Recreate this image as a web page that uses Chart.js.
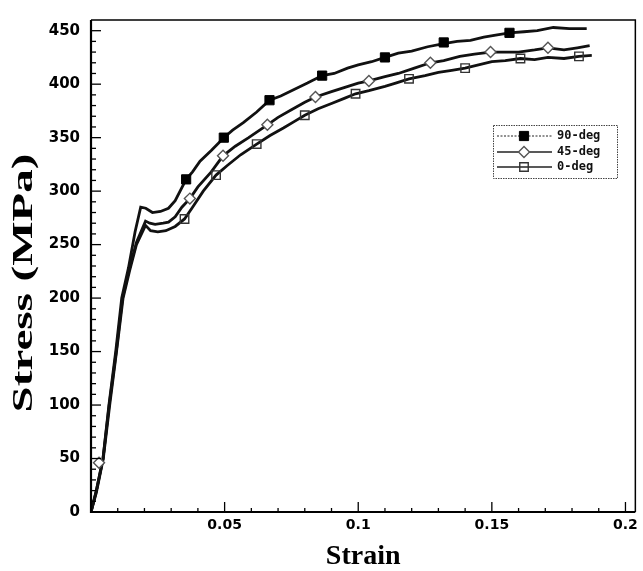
<!DOCTYPE html>
<html>
<head>
<meta charset="utf-8">
<script src="https://cdn.jsdelivr.net/npm/chart.js@4"></script>
<style>
  html, body { margin: 0; padding: 0; background: #fff; }
  #wrap { width: 643px; height: 571px; }
</style>
</head>
<body>
<div id="wrap"><canvas id="c" width="643" height="571"></canvas></div>
<script>
// ---------- data ----------
const seriesLabels = ["90-deg", "45-deg", "0-deg"];

const strain90 = [0, 0.002, 0.0045, 0.0067, 0.0093, 0.0115, 0.014, 0.0165, 0.0186, 0.0205, 0.023, 0.026, 0.029, 0.0315, 0.0356, 0.038, 0.0408, 0.045, 0.0497, 0.053, 0.057, 0.062, 0.0668, 0.071, 0.076, 0.081, 0.0865, 0.091, 0.096, 0.100, 0.105, 0.110, 0.115, 0.120, 0.126, 0.132, 0.137, 0.142, 0.147, 0.152, 0.1566, 0.162, 0.167, 0.173, 0.179, 0.1855];
const stress90 = [0, 20, 50, 100, 151, 200, 228, 262, 285, 284, 280, 281, 284, 291, 311, 318, 328, 338, 350, 357, 364, 374, 385, 389, 395, 401, 408, 410, 415, 418, 421, 425, 429, 431, 435, 438, 440, 441, 444, 446, 448, 449, 450, 453, 452, 452];

const strain45 = [0, 0.002, 0.0045, 0.0068, 0.0095, 0.0118, 0.0142, 0.017, 0.0204, 0.022, 0.024, 0.027, 0.029, 0.0315, 0.034, 0.037, 0.040, 0.045, 0.0494, 0.054, 0.059, 0.066, 0.070, 0.075, 0.080, 0.084, 0.090, 0.095, 0.100, 0.104, 0.110, 0.115, 0.121, 0.127, 0.132, 0.138, 0.1435, 0.1495, 0.155, 0.160, 0.166, 0.171, 0.177, 0.182, 0.1866];
const stress45 = [0, 20, 50, 100, 151, 200, 226, 252, 272, 270, 269, 270, 271, 276, 285, 293, 304, 318, 333, 342, 350, 362, 369, 376, 383, 388, 393, 397, 401, 403, 407, 410, 415, 420, 422, 426, 428, 430, 430, 430, 432, 434, 432, 434, 436];

const strain0 = [0, 0.002, 0.0046, 0.007, 0.0096, 0.012, 0.0145, 0.017, 0.0204, 0.0223, 0.025, 0.028, 0.0315, 0.035, 0.038, 0.042, 0.0468, 0.051, 0.056, 0.062, 0.067, 0.072, 0.076, 0.080, 0.085, 0.090, 0.095, 0.099, 0.104, 0.110, 0.114, 0.119, 0.125, 0.130, 0.135, 0.140, 0.145, 0.150, 0.155, 0.1607, 0.166, 0.171, 0.177, 0.1826, 0.1874];
const stress0 = [0, 18, 50, 100, 151, 200, 226, 250, 268, 263, 262, 263, 267, 274, 285, 300, 315, 324, 334, 344, 352, 359, 365, 371, 377, 382, 387, 391, 394, 398, 401, 405, 408, 411, 413, 415, 418, 421, 422, 424, 423, 425, 424, 426, 427];

// marker positions (symbols drawn on the curves)
const mark90Strain = [0.0356, 0.0497, 0.0668, 0.0865, 0.110, 0.132, 0.1566];
const mark90Stress = [311, 350, 385, 408, 425, 439, 448];
const mark45Strain = [0.003, 0.037, 0.0494, 0.066, 0.084, 0.104, 0.127, 0.1495, 0.171];
const mark45Stress = [46, 293, 333, 362, 388, 403, 420, 430, 434];
const mark0Strain = [0.035, 0.0468, 0.062, 0.080, 0.099, 0.119, 0.140, 0.1607, 0.1826];
const mark0Stress = [274, 315, 344, 371, 391, 405, 415, 424, 426];

const xTickValues = [0.05, 0.1, 0.15, 0.2];
const xTickLabels = ["0.05", "0.1", "0.15", "0.2"];
const yTickValues = [0, 50, 100, 150, 200, 250, 300, 350, 400, 450];
const yTickLabels = ["0", "50", "100", "150", "200", "250", "300", "350", "400", "450"];

const xTitle = "Strain";
const yTitle = "Stress (MPa)";

// ---------- build ----------
const pts = (xs, ys) => xs.map((v, i) => ({ x: v, y: ys[i] }));

const markerStyles = [
  { pointStyle: 'rect', radius: 6.5, fill: '#000', stroke: '#000', bw: 1 },
  { pointStyle: 'rectRot', radius: 5.5, fill: '#fff', stroke: '#555', bw: 1.4 },
  { pointStyle: 'rect', radius: 6, fill: 'rgba(255,255,255,0)', stroke: '#333', bw: 1.4 }
];

const lineData = [pts(strain90, stress90), pts(strain45, stress45), pts(strain0, stress0)];
const markData = [pts(mark90Strain, mark90Stress), pts(mark45Strain, mark45Stress), pts(mark0Strain, mark0Stress)];

const datasets = [];
lineData.forEach((d, i) => {
  datasets.push({
    label: seriesLabels[i], data: d, borderColor: '#111', borderWidth: 2.8,
    pointRadius: 0, tension: 0, fill: false, order: 2
  });
});
markData.forEach((d, i) => {
  const m = markerStyles[i];
  datasets.push({
    label: seriesLabels[i] + ' markers', data: d, showLine: false,
    pointStyle: m.pointStyle, pointRadius: m.radius, pointBackgroundColor: m.fill,
    pointBorderColor: m.stroke, pointBorderWidth: m.bw, order: 1
  });
});

const decor = {
  id: 'decor',
  beforeDraw(chart) {
    const c = chart.ctx;
    c.save(); c.fillStyle = '#fff'; c.fillRect(0, 0, chart.width, chart.height); c.restore();
  },
  afterDraw(chart) {
    const c = chart.ctx;
    const { left, right, top, bottom } = chart.chartArea;
    const xs = chart.scales.x, ys = chart.scales.y;
    c.save();
    c.strokeStyle = '#000';
    // frame
    c.lineWidth = 1.5;
    c.beginPath(); c.moveTo(left, top); c.lineTo(right, top); c.lineTo(right, bottom); c.stroke();
    c.lineWidth = 2.2;
    c.beginPath(); c.moveTo(left, top); c.lineTo(left, bottom); c.lineTo(right, bottom); c.stroke();
    // ticks (inward)
    c.lineWidth = 1.3;
    for (let k = 1; k <= 20; k++) {
      const v = k / 100;
      const px = xs.getPixelForValue(v);
      const len = (k % 5 === 0) ? 10 : 4;
      c.beginPath(); c.moveTo(px, bottom); c.lineTo(px, bottom - len); c.stroke();
    }
    for (let k = 1; k <= 45; k++) {
      const v = k * 10;
      const py = ys.getPixelForValue(v);
      const len = (k % 5 === 0) ? 10 : 5;
      c.beginPath(); c.moveTo(left, py); c.lineTo(left + len, py); c.stroke();
    }
    // axis titles
    c.fillStyle = '#000';
    c.font = 'bold 28px "Liberation Serif", "Times New Roman", serif';
    c.textAlign = 'center'; c.textBaseline = 'middle';
    c.fillText(xTitle, (left + right) / 2, 557);
    c.save();
    c.translate(25, 283);
    c.rotate(-Math.PI / 2);
    c.scale(1.62, 1);
    c.font = 'bold 29px "Liberation Serif", "Times New Roman", serif';
    c.fillText(yTitle, 0, 0);
    c.restore();
    // legend
    const bx = 493, by = 125, bw = 124, bh = 53;
    c.fillStyle = '#fff';
    c.fillRect(bx, by, bw, bh);
    c.lineWidth = 1;
    c.strokeStyle = '#444';
    c.setLineDash([1.5, 1]);
    c.strokeRect(bx + 0.5, by + 0.5, bw, bh);
    c.setLineDash([]);
    const rowsY = [136, 152, 167];
    seriesLabels.forEach((lab, i) => {
      const yy = rowsY[i];
      c.strokeStyle = '#222';
      c.lineWidth = i === 0 ? 1 : 1.3;
      c.setLineDash(i === 0 ? [2, 1.5] : []);
      c.beginPath(); c.moveTo(497, yy); c.lineTo(552, yy); c.stroke();
      c.setLineDash([]);
      const m = markerStyles[i];
      const mx = 524;
      c.fillStyle = m.fill; c.strokeStyle = m.stroke; c.lineWidth = m.bw;
      c.beginPath();
      if (m.pointStyle === 'rect') {
        const s = m.radius * Math.SQRT1_2;
        c.rect(mx - s, yy - s, 2 * s, 2 * s);
      } else {
        const r = m.radius;
        c.moveTo(mx, yy - r); c.lineTo(mx + r, yy); c.lineTo(mx, yy + r); c.lineTo(mx - r, yy); c.closePath();
      }
      c.fill(); c.stroke();
      c.fillStyle = '#111';
      c.font = 'bold 12px "DejaVu Sans Mono", "Liberation Mono", monospace';
      c.textAlign = 'left'; c.textBaseline = 'middle';
      c.fillText(lab, 557, yy);
    });
    c.restore();
  }
};

new Chart(document.getElementById('c'), {
  type: 'line',
  data: { datasets },
  options: {
    responsive: false,
    animation: false,
    layout: { padding: { top: 18, right: 5, left: 0, bottom: 0 } },
    plugins: { legend: { display: false }, tooltip: { enabled: false } },
    scales: {
      x: {
        type: 'linear', min: 0, max: 0.2037,
        grid: { display: false, drawTicks: false },
        border: { display: false },
        afterBuildTicks: s => { s.ticks = xTickValues.map(v => ({ value: v })); },
        afterFit: s => { s.height = 59; },
        ticks: {
          color: '#000', padding: 5, maxRotation: 0, autoSkip: false,
          font: { family: '"DejaVu Sans", sans-serif', size: 14, weight: 'bold' },
          callback: (v) => { const i = xTickValues.indexOf(v); return i >= 0 ? xTickLabels[i] : ''; }
        }
      },
      y: {
        type: 'linear', min: 0, max: 460,
        grid: { display: false, drawTicks: false },
        border: { display: false },
        afterBuildTicks: s => { s.ticks = yTickValues.map(v => ({ value: v })); },
        afterFit: s => { s.width = 91; },
        ticks: {
          color: '#000', padding: 11, autoSkip: false,
          font: { family: '"DejaVu Sans", sans-serif', size: 15, weight: 'bold' },
          callback: (v) => { const i = yTickValues.indexOf(v); return i >= 0 ? yTickLabels[i] : ''; }
        }
      }
    }
  },
  plugins: [decor]
});
</script>
</body>
</html>
